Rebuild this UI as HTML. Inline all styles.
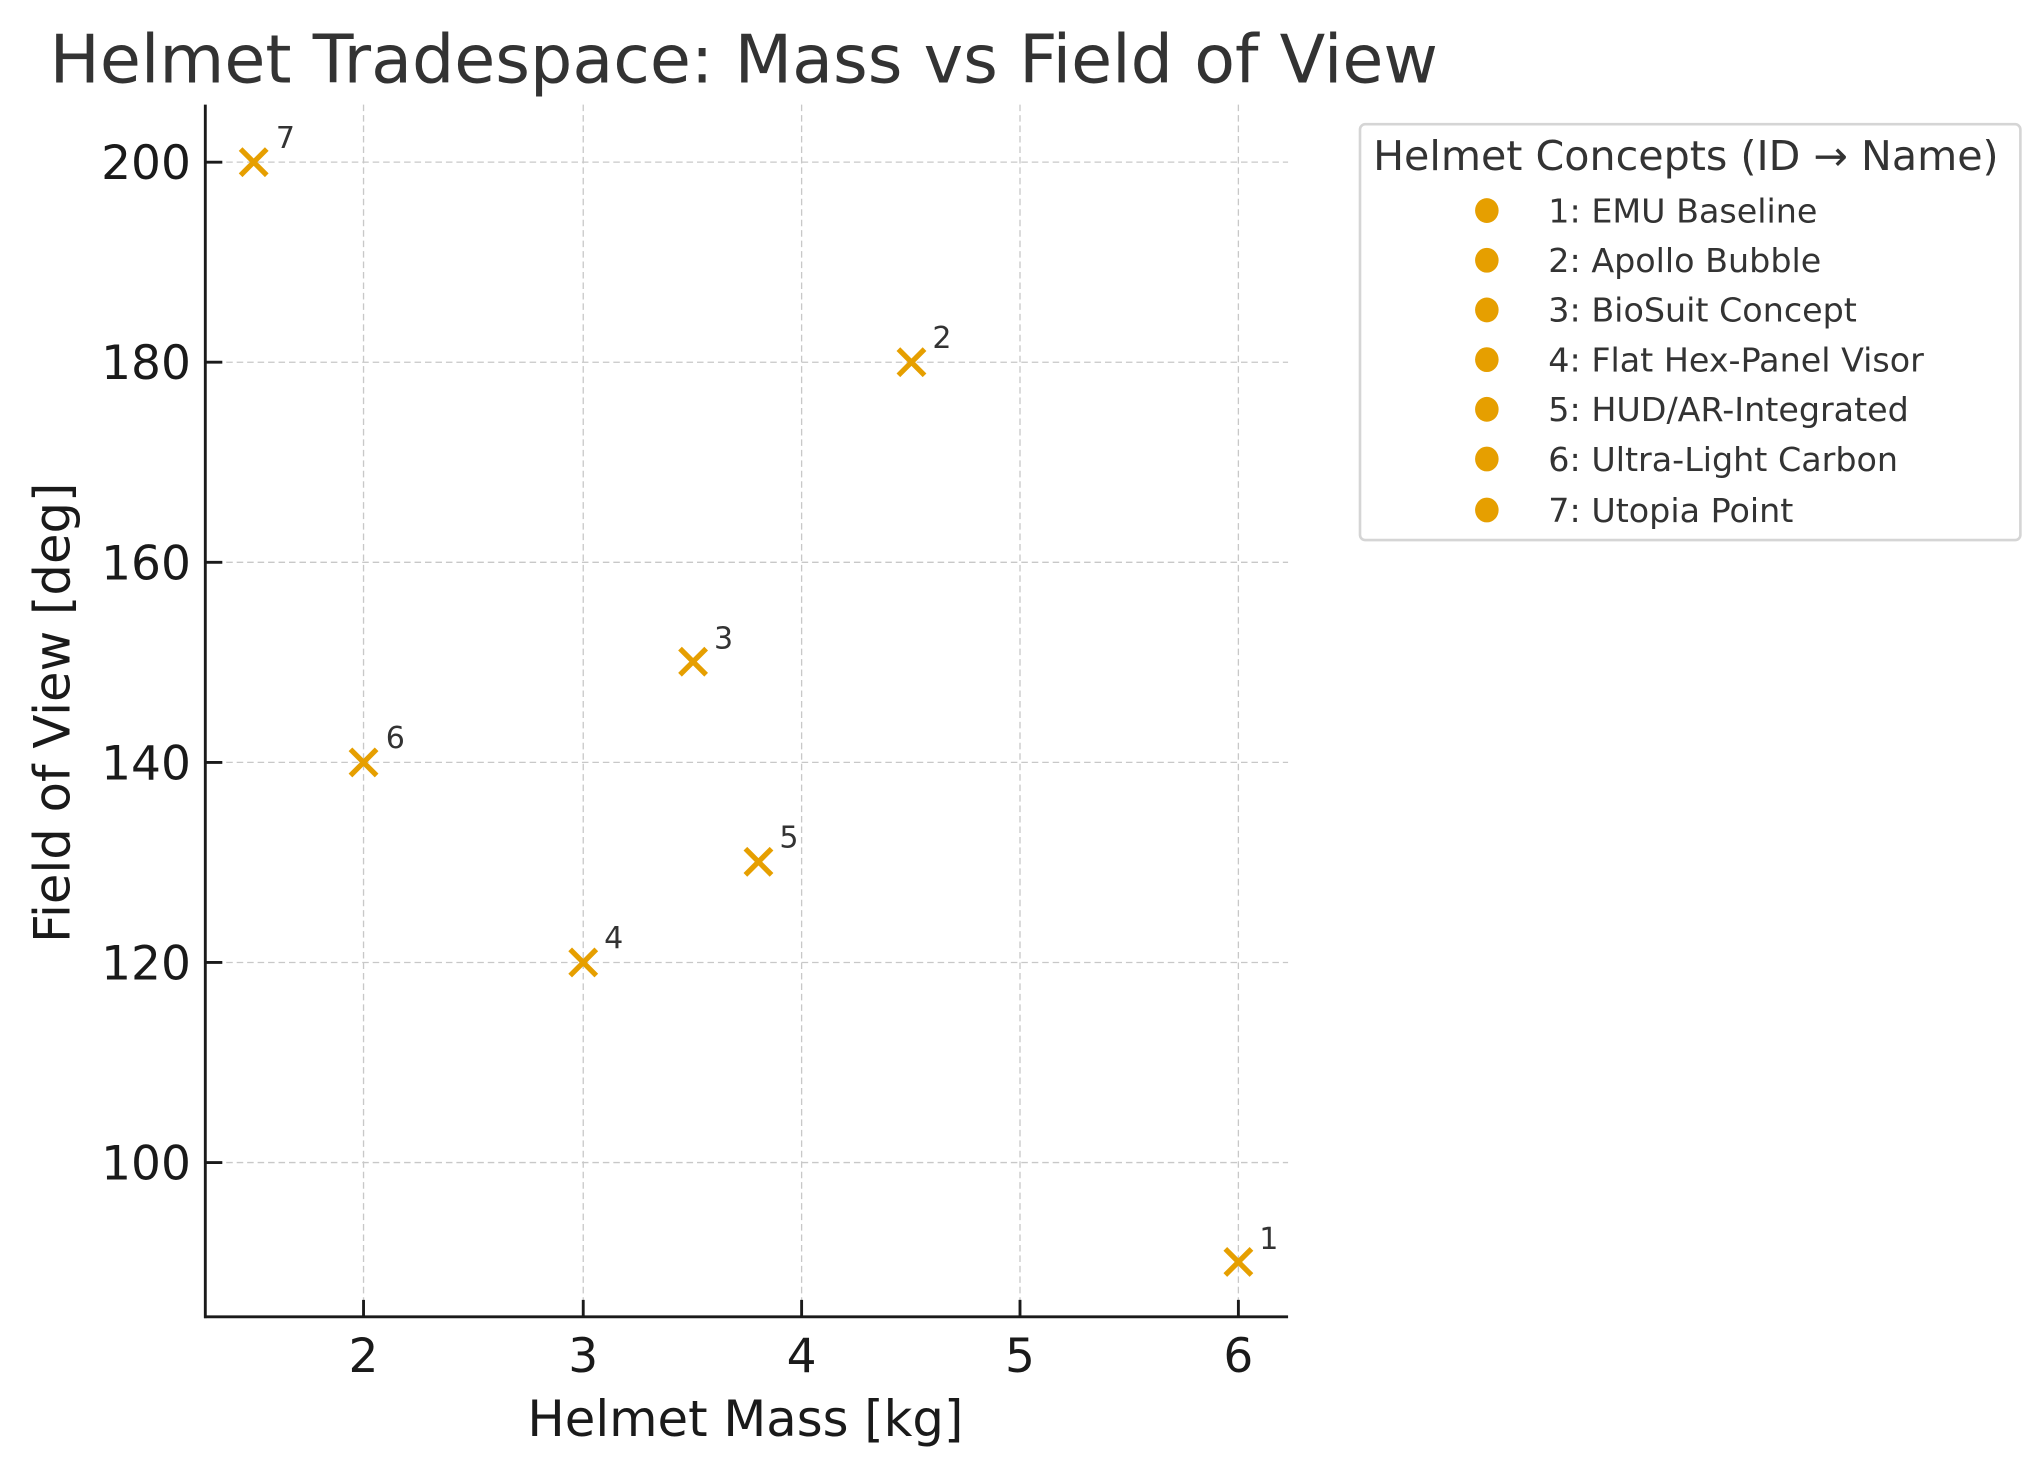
<!DOCTYPE html>
<html><head><meta charset="utf-8"><style>html,body{margin:0;padding:0;background:#fff}svg{display:block}text{font-family:"DejaVu Sans","Liberation Sans",sans-serif}</style></head>
<body>
<svg width="2040" height="1467" viewBox="0 0 1560 1121.8" preserveAspectRatio="none" xmlns="http://www.w3.org/2000/svg">
<rect width="1560" height="1121.8" fill="#fff"/>
<text x="38" y="63" font-size="51" fill="#333">Helmet Tradespace: Mass vs Field of View</text>
<g stroke="#c8c8c8" stroke-width="1" stroke-dasharray="5,3">
<line x1="278" y1="80" x2="278" y2="1007"/><line x1="446" y1="80" x2="446" y2="1007"/><line x1="613" y1="80" x2="613" y2="1007"/><line x1="780" y1="80" x2="780" y2="1007"/><line x1="947" y1="80" x2="947" y2="1007"/>
<line x1="157" y1="124" x2="985" y2="124"/><line x1="157" y1="277" x2="985" y2="277"/><line x1="157" y1="430" x2="985" y2="430"/><line x1="157" y1="583" x2="985" y2="583"/><line x1="157" y1="736" x2="985" y2="736"/><line x1="157" y1="889" x2="985" y2="889"/>
</g>
<g stroke="#1a1a1a" stroke-width="2.2">
<line x1="157" y1="80" x2="157" y2="1008"/><line x1="156" y1="1007" x2="985" y2="1007"/>
<line x1="278" y1="1007" x2="278" y2="994"/><line x1="446" y1="1007" x2="446" y2="994"/><line x1="613" y1="1007" x2="613" y2="994"/><line x1="780" y1="1007" x2="780" y2="994"/><line x1="947" y1="1007" x2="947" y2="994"/>
<line x1="157" y1="124" x2="170" y2="124"/><line x1="157" y1="277" x2="170" y2="277"/><line x1="157" y1="430" x2="170" y2="430"/><line x1="157" y1="583" x2="170" y2="583"/><line x1="157" y1="736" x2="170" y2="736"/><line x1="157" y1="889" x2="170" y2="889"/>
</g>
<g font-size="36" fill="#1a1a1a" text-anchor="middle">
<text x="278" y="1049">2</text><text x="446" y="1049">3</text><text x="613" y="1049">4</text><text x="780" y="1049">5</text><text x="947" y="1049">6</text>
</g>
<g font-size="36" fill="#1a1a1a" text-anchor="end">
<text x="146" y="137">200</text><text x="146" y="290">180</text><text x="146" y="443">160</text><text x="146" y="596">140</text><text x="146" y="749">120</text><text x="146" y="902">100</text>
</g>
<text x="570" y="1098" font-size="38" fill="#1a1a1a" text-anchor="middle">Helmet Mass [kg]</text>
<text transform="translate(53,545) rotate(-90)" font-size="38" fill="#1a1a1a" text-anchor="middle">Field of View [deg]</text>
<g stroke="#E69F00" stroke-width="4">
<path d="M937,955l20,20M937,975l20,-20"/>
<path d="M687,267l20,20M687,287l20,-20"/>
<path d="M520,496l20,20M520,516l20,-20"/>
<path d="M436,726l20,20M436,746l20,-20"/>
<path d="M570,649l20,20M570,669l20,-20"/>
<path d="M268,573l20,20M268,593l20,-20"/>
<path d="M184,114l20,20M184,134l20,-20"/>
</g>
<g font-size="23" fill="#333">
<text x="963" y="955">1</text><text x="713" y="266">2</text><text x="546" y="496">3</text><text x="462" y="725">4</text><text x="596" y="648">5</text><text x="295" y="572">6</text><text x="211" y="113">7</text>
</g>
<rect x="1040" y="95" width="505" height="318" rx="4" fill="#fff" stroke="#d5d5d5" stroke-width="2"/>
<text x="1050" y="130" font-size="31.5" fill="#333">Helmet Concepts (ID → Name)</text>
<g fill="#E69F00">
<ellipse cx="1137" cy="161" rx="9" ry="9.5"/><ellipse cx="1137" cy="199" rx="9" ry="9.5"/><ellipse cx="1137" cy="237" rx="9" ry="9.5"/><ellipse cx="1137" cy="275" rx="9" ry="9.5"/><ellipse cx="1137" cy="313" rx="9" ry="9.5"/><ellipse cx="1137" cy="351" rx="9" ry="9.5"/><ellipse cx="1137" cy="390" rx="9" ry="9.5"/>
</g>
<g font-size="25.5" fill="#333">
<text x="1184" y="170">1: EMU Baseline</text>
<text x="1184" y="208">2: Apollo Bubble</text>
<text x="1184" y="246">3: BioSuit Concept</text>
<text x="1184" y="284">4: Flat Hex-Panel Visor</text>
<text x="1184" y="322">5: HUD/AR-Integrated</text>
<text x="1184" y="360">6: Ultra-Light Carbon</text>
<text x="1184" y="399">7: Utopia Point</text>
</g>
</svg>
</body></html>
